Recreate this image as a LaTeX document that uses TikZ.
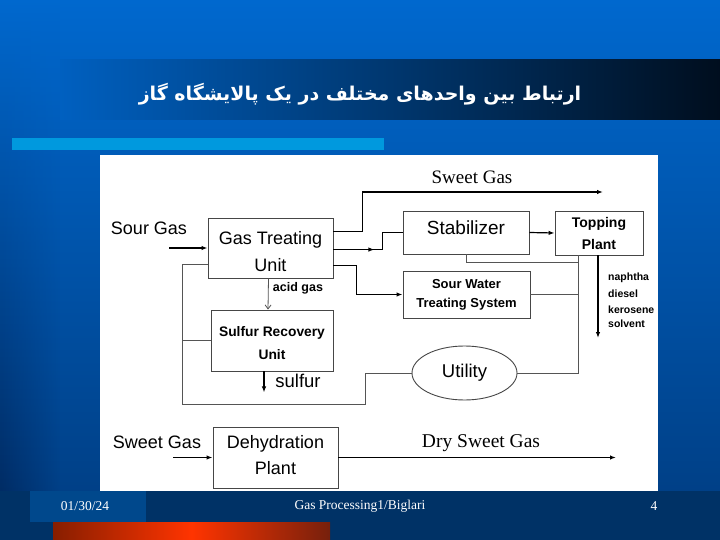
\documentclass[tikz,border=0pt]{standalone}
\usepackage{fontspec}
\setmainfont{Liberation Serif}
\setsansfont{Liberation Sans}
\newfontfamily\fatitle[Script=Arabic]{DejaVu Sans}
\TeXXeTstate=1
\usetikzlibrary{arrows.meta,calc,shapes.geometric,fadings}
\definecolor{bgtop}{RGB}{0,104,206}
\definecolor{bgbot}{RGB}{0,60,128}
\definecolor{bgleft}{RGB}{0,38,90}
\definecolor{titleR}{RGB}{0,14,30}
\definecolor{titleL}{RGB}{0,96,192}
\definecolor{cyanbar}{RGB}{0,153,222}
\definecolor{footdark}{RGB}{0,50,102}
\definecolor{footlight}{RGB}{0,72,140}
\definecolor{redL}{RGB}{135,30,0}
\definecolor{redM}{RGB}{255,52,0}
\definecolor{redR}{RGB}{118,32,12}
\definecolor{boxgray}{RGB}{70,70,70}
\definecolor{linegray}{RGB}{85,85,85}
\begin{document}
\begin{tikzpicture}[x=1pt,y=-1pt,
  box/.style={draw=boxgray, line width=0.9pt, rectangle, inner sep=0pt, align=center},
  conn/.style={line width=1.2pt, black},
  thinl/.style={line width=0.8pt, linegray},
  >={Latex[length=6pt,width=4.5pt]},
  lbl/.style={inner sep=0pt, align=center}]
\useasboundingbox (0,0) rectangle (720,540);
% background
\shade[top color=bgtop, bottom color=bgbot] (0,0) rectangle (720,540);
\shade[top color=bgtop, bottom color=bgleft, path fading=east] (0,0) rectangle (60,540);
% title bar
\shade[left color=titleL, right color=titleR] (60,60) rectangle (720,120);
\node[lbl, text=white, font=\fatitle\bfseries\fontsize{19}{23}\selectfont] (title) at (360,94) {\beginR ارتباط بین واحدهای مختلف در یک پالایشگاه گاز\endR};
% cyan bar
\fill[cyanbar] (12,138) rectangle (384,150);
% footer
\fill[footdark] (0,491) rectangle (720,540);
\fill[footlight] (30,491) rectangle (146,522);
\shade[left color=redL, right color=redR, middle color=redM] (53,522) rectangle (330,540);
\node[lbl, text=white, font=\fontsize{13.5}{15}\selectfont] (fdate) at (85,506) {01/30/24};
\node[lbl, text=white, font=\fontsize{13.5}{15}\selectfont] (fname) at (360,506) {Gas Processing1/Biglari};
\node[lbl, text=white, font=\fontsize{13.5}{15}\selectfont] (fpage) at (654,506) {4};
% white panel
\fill[white] (100,155) rectangle (658,491);

% boxes
\node[box, minimum width=125pt, minimum height=60pt, font=\sffamily\fontsize{18}{27}\selectfont] (gtu) at (270.5,248) {\rule{0pt}{21pt}Gas Treating\\Unit};
\node[box, minimum width=126pt, minimum height=43pt, font=\sffamily\fontsize{19}{22}\selectfont] (stab) at (466,232.5) {Stabilizer\rule[-10pt]{0pt}{0pt}};
\node[box, minimum width=88pt, minimum height=44pt, font=\sffamily\bfseries\fontsize{14}{22}\selectfont] (top) at (599,233) {Topping\\Plant};
\node[box, minimum width=127pt, minimum height=47pt, font=\sffamily\bfseries\fontsize{13}{19}\selectfont] (sw) at (466.5,294.5) {Sour Water\\Treating System};
\node[box, minimum width=122pt, minimum height=61pt, font=\sffamily\bfseries\fontsize{13.8}{23}\selectfont] (sru) at (272,340.5) {\rule{0pt}{15pt}Sulfur Recovery\\Unit};
\node[draw=boxgray, line width=0.9pt, ellipse, inner sep=0pt, minimum width=105pt, minimum height=54pt, font=\sffamily\fontsize{18.5}{22}\selectfont] (util) at (464.5,373) {Utility};
\node[box, minimum width=125pt, minimum height=61pt, font=\sffamily\fontsize{18}{26}\selectfont] (dp) at (275.5,457.5) {Dehydration\\Plant\rule[-6pt]{0pt}{0pt}};

% labels
\node[lbl, font=\sffamily\fontsize{18}{22}\selectfont] (lsour) at (149,228) {Sour Gas};
\node[lbl, font=\sffamily\fontsize{18}{22}\selectfont] (lsweet) at (157,442) {Sweet Gas};
\node[lbl, font=\fontsize{19}{22}\selectfont] (lsweettop) at (472,177) {Sweet Gas};
\node[lbl, font=\fontsize{19.5}{22}\selectfont] (ldry) at (481,443) {Dry Sweet Gas};
\node[lbl, font=\sffamily\bfseries\fontsize{12.5}{15}\selectfont] (lacid) at (298,288) {acid gas};
\node[lbl, font=\sffamily\fontsize{18.5}{22}\selectfont] (lsulf) at (298,381) {sulfur};
\node[lbl, anchor=west, font=\sffamily\bfseries\fontsize{10.5}{12}\selectfont] (lnap) at (608,278) {naphtha};
\node[lbl, anchor=west, font=\sffamily\bfseries\fontsize{10.5}{12}\selectfont] (ldie) at (608,294) {diesel};
\node[lbl, anchor=west, font=\sffamily\bfseries\fontsize{10.5}{12}\selectfont] (lker) at (608,310) {kerosene};
\node[lbl, anchor=west, font=\sffamily\bfseries\fontsize{10.5}{12}\selectfont] (lsol) at (608,324) {solvent};

% coordinates
\coordinate (sgin) at (169,248);
\coordinate (swin) at (173,457.5);
\coordinate (sgout) at (603,192);
\coordinate (dsg) at (616,457.5);
\coordinate (prod) at (598,338);
\coordinate (vj) at (578,262);
\coordinate (lc) at (182,404);
\coordinate (ub) at (365,404);

% connectors
\draw[conn,->] (sgin) -- (gtu.west);
\draw[conn,->] (swin) -- (dp.west);
\draw[conn,->] ($(gtu.north east)+(0,14)$) -- ++(29,0) |- (sgout);
\draw[conn,->] ($(gtu.north east)+(0,32)$) -- ++(41,0);
\draw[conn] ($(gtu.north east)+(0,32)$) -- ++(49,0) |- (stab.west);
\draw[conn,->] ($(gtu.north east)+(0,48)$) -- ++(23,0) |- (sw.west);
\draw[conn,->] (stab.east) -- (top.west);
\draw[conn,->] ($(top.south)+(-1,0)$) -- (prod);
\draw[thinl] (stab.south) |- (vj);
\draw[thinl] (sw.east) -- (sw.east -| vj);
\draw[thinl] (top.south west -| vj) |- (util.east);
\draw[thinl, -{Straight Barb[length=4pt,width=6pt]}] ($(gtu.south)+(-2,0)$) -- ($(sru.north)+(-4,0)$);
\draw[conn,->] ($(sru.south)+(-8,0)$) -- ++(0,21);
\draw[thinl] ($(gtu.south west)+(0,-14)$) -| (lc) -- (ub) |- (util.west);
\draw[thinl] (sru.west) -- (sru.west -| lc);
\draw[thinl] ($(dp.north)+(-2.5,0)$) -- ($(dp.north)+(-2.5,0)$ |- lc);
\draw[conn,->] (dp.east) -- (dsg);
\end{tikzpicture}
\end{document}
